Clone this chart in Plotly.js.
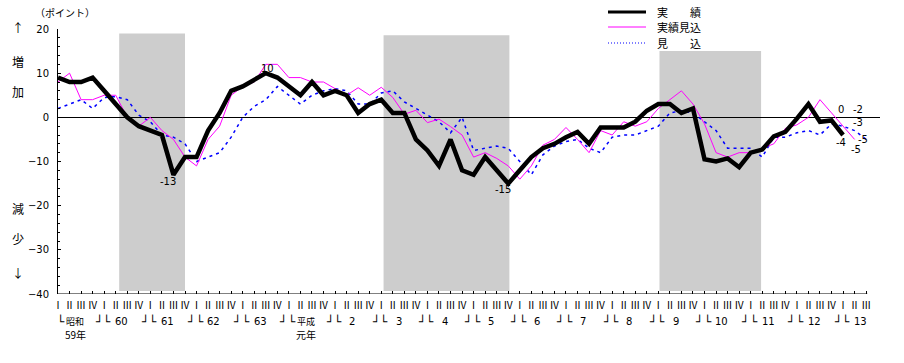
<!DOCTYPE html>
<html><head><meta charset="utf-8">
<script src="https://cdn.plot.ly/plotly-3.0.1.min.js"></script>
<style>body{margin:0;background:#fff}#chart{width:904px;height:363px}</style>
</head><body><div id="chart"></div>
<script>
// ---- data ----
const quarterNames = ['Ⅰ','Ⅱ','Ⅲ','Ⅳ'];
const yearLabels = ['昭和','60','61','62','63','平成','2','3','4','5','6','7','8','9','10','11','12','13'];
const yearSubLabels = ['59年','','','','','元年','','','','','','','','','','','',''];
const quartersInLastYear = 3;
// 実績
const actual = [9,8,8,9,6,3,0,-2,-3,-4,
  -13,-9,-9,-3,1,6,7,8.5,10,9,
  7,5,8,5,6,5,1,3,4,1,
  1,-5,-7.5,-11,-5,-12,-13,-9,-12,-15,
  -12,-9,-7,-6,-4.5,-3.3,-6,-2.3,-2.3,-2.3,
  -1,1.5,3,3,1,2,-9.5,-10,-9.3,-11.3,
  -8,-7.3,-4.3,-3.3,-0.3,3,-1,-0.7,-4];
// 実績見込
const outlook = [8,10,4,4,5,5,0,-2,0,-3,
  -5,-9,-11,-5,-2,5,7,8,12,12,
  9,9,8,8,6.5,5,6.7,5,6.8,4.5,
  0.7,1.6,-1.2,-0.4,-2.1,-4,-9,-8,-9.3,-11,
  -14,-11,-6.3,-5,-2.3,-5,-8,-3,-4,-1,
  -2,-1,2,4,6,3,-1.5,-8,-9,-8,
  -8,-7,-6,-2.5,-1.7,0,4,1,-2,-5];
// 見込
const forecast = [2,3,4,2,4.5,4.7,4,0.5,-1,-4,
  -4.5,-6,-10,-9,-8,-4.5,0,2.5,4,7,
  5,3,5,6,6.5,6,3,3,5.5,6,
  3.5,2,0.5,-1,-3.5,0,-7.5,-7,-6.5,-7,
  -10,-13,-8.5,-6.5,-5.5,-5,-7,-8,-4.5,-4,
  -4,-3,-2,1,1.5,1,-1,-3,-7,-7,
  -7,-9,-4.5,-4.5,-3.5,-3,-4,-1.5,-2,-3,-5];
// 景気後退期 (quarter index start, end, top)
const bandStart = [5.3, 28.2, 52.1];
const bandEnd = [11.0, 39.1, 60.9];
const bandTop = [19, 18.6, 15];
// value labels
const peakLabels = [{i:18, text:'10', dx:2, dy:-5}, {i:10, text:'-13', dx:-5, dy:7}, {i:39, text:'-15', dx:-5, dy:6}];
const endLabels = [
  {x:67.8, y:1.8, text:'0'}, {x:69.3, y:1.8, text:'-2'}, {x:69.3, y:-1.1, text:'-3'},
  {x:69.7, y:-5.1, text:'-5'}, {x:67.8, y:-5.6, text:'-4'}, {x:69.1, y:-7.2, text:'-5'}
];

// ---- build ----
const nQ = (yearLabels.length - 1) * 4 + quartersInLastYear;
const qIdx = Array.from({length:nQ}, (_, i) => i);
const qText = qIdx.map(i => quarterNames[i % 4]);
const xs = arr => arr.map((_, i) => i);

const L = 58, R = 24, T = 29, Bm = 69, Wd = 904, Ht = 363;
const W = Wd - L - R, H = Ht - T - Bm;
const P = (px, py) => ({xref:'paper', yref:'paper', x:(px - L) / W, y:(Ht - Bm - py) / H});
const FJ = 'Noto Sans CJK JP, sans-serif';
const FN = 'DejaVu Sans, sans-serif';
const FB = 'DejaVu Sans Mono, monospace';

const traces = [
  {x: xs(forecast), y: forecast, mode:'lines', line:{color:'#0000ff', width:1.5, dash:'3px,4px'}, hoverinfo:'skip'},
  {x: xs(outlook), y: outlook, mode:'lines', line:{color:'#ff00ff', width:1}, hoverinfo:'skip'},
  {x: xs(actual), y: actual, mode:'lines', line:{color:'#000000', width:4.5}, hoverinfo:'skip'}
];

const shapes = [];
bandStart.forEach((s, k) => shapes.push({type:'rect', xref:'x', yref:'y', x0:s, x1:bandEnd[k], y0:-39.3, y1:bandTop[k],
  fillcolor:'#cdcdcd', line:{width:0}, layer:'below'}));
shapes.push({type:'line', xref:'x', yref:'y', x0:0, x1:nQ - 0.9, y0:-40, y1:-40, line:{color:'#000', width:1}});
// legend lines
const legY = [12, 27, 43];
const legStyle = [{color:'#000', width:3}, {color:'#ff00ff', width:1}, {color:'#0000ff', width:1.2, dash:'1px,2px'}];
const legText = ['実　　績', '実績見込', '見　　込'];
legY.forEach((y, k) => {
  const a = P(608, y), b = P(646, y);
  shapes.push({type:'line', xref:'paper', yref:'paper', x0:a.x, x1:b.x, y0:a.y, y1:a.y, line:legStyle[k]});
});

const ann = [];
const txt = (pos, text, font, extra) => ann.push(Object.assign(pos, {text, showarrow:false, xanchor:'center', yanchor:'middle', borderpad:0, font}, extra || {}));
legY.forEach((y, k) => txt(P(656, y), legText[k], {family:FJ, size:11, color:'#000'}, {xanchor:'left'}));
txt(P(65, 12), '（ポイント）', {family:FJ, size:10, color:'#000'});
[['↑',27],['増',62],['加',92],['減',208],['少',238],['↓',272]].forEach(([t, y]) => txt(P(18, y), t, {family:FJ, size:12, color:'#000'}));
// year brackets
const yBr = P(0, 321).y, ySub = P(0, 334).y;
yearLabels.forEach((lab, k) => {
  const i0 = k * 4;
  const isJa = /[^\d]/.test(lab);
  txt({xref:'x', yref:'paper', x:i0, y:yBr, xshift:3}, '└', {family:FB, size:12, color:'#000'});
  txt({xref:'x', yref:'paper', x:i0 + 1.5, y:yBr}, lab, isJa ? {family:FJ, size:9, color:'#000'} : {family:FN, size:10, color:'#000'});
  if (k < yearLabels.length - 1) txt({xref:'x', yref:'paper', x:i0 + 3, y:yBr, xshift:6}, '┘', {family:FB, size:12, color:'#000'});
  if (yearSubLabels[k]) txt({xref:'x', yref:'paper', x:i0 + 1.5, y:ySub}, yearSubLabels[k], {family:FJ, size:10, color:'#000'});
});
peakLabels.forEach(p => txt({xref:'x', yref:'y', x:p.i, y:actual[p.i], xshift:p.dx, yshift:-p.dy}, p.text, {family:FN, size:10, color:'#000'}));
endLabels.forEach(p => txt({xref:'x', yref:'y', x:p.x, y:p.y}, p.text, {family:FN, size:10, color:'#000'}));

const layout = {
  width:Wd, height:Ht, margin:{l:L, r:R, t:T, b:Bm, pad:0},
  paper_bgcolor:'#fff', plot_bgcolor:'#fff', showlegend:false,
  xaxis:{range:[0, W / 11.545], tickmode:'array', tickvals:qIdx, ticktext:qText, ticks:'inside', ticklen:3, tickcolor:'#000',
    showline:false, showgrid:false, zeroline:false, tickangle:0, ticklabelstandoff:4,
    tickfont:{family:FJ, size:10, color:'#000'}, fixedrange:true},
  yaxis:{range:[-40, 20], tick0:0, dtick:10, ticks:'inside', ticklen:3, tickcolor:'#000', showline:true, linecolor:'#000', linewidth:1,
    showgrid:false, zeroline:true, zerolinecolor:'#000', zerolinewidth:1, ticklabelstandoff:6,
    minor:{dtick:2, ticks:'inside', ticklen:2, tickcolor:'#000'},
    tickfont:{family:FN, size:10, color:'#000'}, fixedrange:true},
  shapes:shapes, annotations:ann
};
Plotly.newPlot('chart', traces, layout, {displayModeBar:false, staticPlot:true});
</script></body></html>
